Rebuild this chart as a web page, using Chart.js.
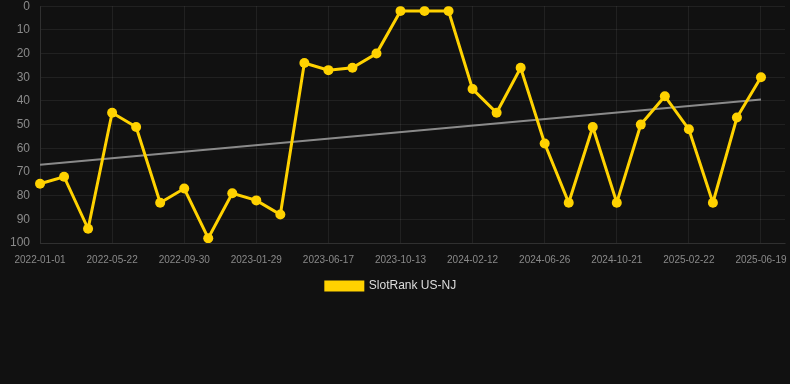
<!DOCTYPE html>
<html>
<head>
<meta charset="utf-8">
<script src="https://cdn.jsdelivr.net/npm/chart.js@4/dist/chart.umd.min.js"></script>
<style>
  html, body { margin: 0; padding: 0; background: #111111; overflow: hidden; }
  #wrap { position: relative; top: -11px; width: 796px; height: 313px; }
</style>
</head>
<body>
<div id="wrap"><canvas id="rank"></canvas></div>
<script>
const dates = [
  "2022-01-01", "2022-02-17", "2022-04-05", "2022-05-22", "2022-07-05", "2022-08-17",
  "2022-09-30", "2022-11-09", "2022-12-20", "2023-01-29", "2023-03-16", "2023-05-02",
  "2023-06-17", "2023-07-26", "2023-09-04", "2023-10-13", "2023-11-23", "2024-01-02",
  "2024-02-12", "2024-03-28", "2024-05-12", "2024-06-26", "2024-08-04", "2024-09-12",
  "2024-10-21", "2024-12-02", "2025-01-12", "2025-02-22", "2025-04-01", "2025-05-10",
  "2025-06-19", "2025-07-28"
];
const rank = [
  75, 72, 94, 45, 51, 83, 77, 98, 79, 82, 88, 24, 27, 26, 20, 2,
  2, 2, 35, 45, 26, 58, 83, 51, 83, 50, 38, 52, 83, 47, 30
];
const trendEnds = [67.0, 39.4];

const trend = dates.map(() => null);
trend[0] = trendEnds[0];
trend[rank.length - 1] = trendEnds[1];

const gridColor = "rgba(255,255,255,0.07)";

// canvas is a bit wider than the page, pull the legend back to the page centre
const legendShift = {
  id: "legendShift",
  afterLayout(chart) {
    chart.legend.left -= 7;
    chart.legend.right -= 7;
  }
};

new Chart(document.getElementById("rank"), {
  type: "line",
  data: {
    labels: dates,
    datasets: [
      {
        label: "SlotRank US-NJ",
        data: rank,
        borderColor: "rgb(255,210,0)",
        backgroundColor: "rgb(255,210,0)",
        borderWidth: 3,
        pointRadius: 5,
        pointBackgroundColor: "rgb(255,210,0)",
        pointBorderWidth: 0,
        tension: 0
      },
      {
        label: "trend",
        data: trend,
        borderColor: "rgba(160,160,160,0.85)",
        borderWidth: 2,
        pointRadius: 0,
        spanGaps: true
      }
    ]
  },
  options: {
    responsive: true,
    maintainAspectRatio: false,
    animation: false,
    layout: { padding: 0 },
    scales: {
      y: {
        reverse: true,
        min: 0,
        max: 100,
        ticks: { stepSize: 10, color: "#8a8a8a", font: { size: 12 }, padding: 10 },
        grid: { color: gridColor, drawTicks: false },
        border: { color: gridColor }
      },
      x: {
        ticks: {
          autoSkip: false,
          maxRotation: 0,
          color: "#8a8a8a",
          font: { size: 10 },
          padding: 11,
          callback: function (v, i) { return (i % 3 === 0 && i < rank.length) ? dates[i] : ""; }
        },
        grid: {
          drawTicks: false,
          color: (c) => (c.index % 3 === 0 && c.index < rank.length) ? gridColor : "rgba(0,0,0,0)"
        },
        border: { color: gridColor }
      }
    },
    plugins: {
      legend: {
        position: "bottom",
        labels: {
          color: "#dddddd",
          boxWidth: 37,
          boxHeight: 8,
          padding: 3,
          font: { size: 12 },
          filter: (item) => item.datasetIndex === 0
        }
      },
      tooltip: { enabled: false }
    }
  },
  plugins: [legendShift]
});
</script>
</body>
</html>
